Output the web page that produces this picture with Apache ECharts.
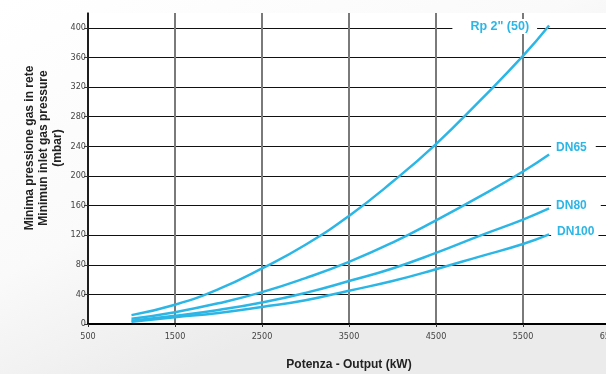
<!DOCTYPE html>
<html>
<head>
<meta charset="utf-8">
<script src="https://cdn.jsdelivr.net/npm/echarts@6/dist/echarts.min.js"></script>
<style>
html,body{margin:0;padding:0;}
#c{width:606px;height:374px;}
</style>
</head>
<body>
<div id="c"></div>
<script>
// Data
const outputKW = [1000, 1500, 2000, 2500, 3000, 3500, 4000, 4500, 5000, 5500, 5800];
const rp2 = [12, 26, 47, 75, 107, 146, 192, 243, 301, 362, 403];
const dn65 = [7, 16, 28, 43, 62, 84, 110, 140, 172, 206, 229];
const dn80 = [4.5, 11, 19, 29, 42, 58, 75, 96, 119, 141, 156];
const dn100 = [3, 9, 15, 23, 32, 45, 58, 74, 91, 108, 121];
const seriesNames = ['Rp 2" (50)', 'DN65', 'DN80', 'DN100'];
const xTickLabels = [500, 1500, 2500, 3500, 4500, 5500, 6500];
const yTickLabels = [0, 40, 80, 120, 160, 200, 240, 280, 320, 360, 400];
const xTitle = 'Potenza - Output (kW)';
const yTitle = 'Minima pressione gas in rete\nMinimun inlet gas pressure\n(mbar)';

const lineColor = '#2cb6e6';
const tickFont = "'Liberation Sans Narrow','Arial Narrow','DejaVu Sans Condensed',sans-serif";
const boldFont = "'Liberation Sans',Arial,sans-serif";

const labelStyles = [
  {position: 'left', distance: 12, padding: [1, 8, 1, 18], offset: [0, 1], size: 12.5},
  {position: 'right', distance: 2, padding: [1, 9, 1, 5], offset: [0, -7], size: 12},
  {position: 'right', distance: 2, padding: [1, 14, 1, 5], offset: [0, -3], size: 12},
  {position: 'right', distance: 2, padding: [1, 4, 1, 6], offset: [0, -3], size: 12}
];

function buildData(vals, idx) {
  return vals.map((v, i) => {
    const item = {value: [outputKW[i], v]};
    if (i === vals.length - 1) {
      const s = labelStyles[idx];
      item.label = {
        show: true,
        formatter: seriesNames[idx],
        position: s.position,
        distance: s.distance,
        offset: s.offset,
        padding: s.padding,
        backgroundColor: '#ffffff',
        color: lineColor,
        fontFamily: boldFont,
        fontWeight: 'bold',
        fontSize: s.size
      };
    }
    return item;
  });
}

const allVals = [rp2, dn65, dn80, dn100];

const chart = echarts.init(document.getElementById('c'), null, {renderer: 'canvas'});
chart.setOption({
  animation: false,
  backgroundColor: {
    type: 'linear', x: 0, y: 0, x2: 0.3, y2: 1,
    colorStops: [{offset: 0, color: '#ffffff'}, {offset: 0.6, color: '#fafafa'}, {offset: 1, color: '#ebebeb'}]
  },
  grid: {
    left: 88, right: -4, top: 13, bottom: 50,
    containLabel: false, outerBoundsMode: 'none',
    show: true, backgroundColor: '#ffffff', borderWidth: 0
  },
  xAxis: {
    type: 'value', min: 500, max: 6500, interval: 500,
    axisLine: {show: true, lineStyle: {color: '#000', width: 2}},
    axisTick: {show: true, length: 3, customValues: xTickLabels, lineStyle: {color: '#333'}},
    axisLabel: {
      customValues: xTickLabels, margin: 8, hideOverlap: false,
      color: '#444', fontSize: 9, fontFamily: tickFont,
      formatter: v => String(v)
    },
    splitLine: {show: true, lineStyle: {color: '#7a7a7a', width: 2}}
  },
  yAxis: {
    type: 'value', min: 0, max: 420, interval: 20,
    axisLine: {show: true, lineStyle: {color: '#000', width: 1.5}},
    axisTick: {show: true, length: 4, customValues: yTickLabels, lineStyle: {color: '#333'}},
    axisLabel: {
      customValues: yTickLabels, margin: 2,
      color: '#444', fontSize: 9, fontFamily: tickFont
    },
    splitLine: {show: true, lineStyle: {color: '#111', width: 1.2}}
  },
  graphic: [
    {
      type: 'text', x: 349, y: 365,
      style: {
        text: xTitle, font: "bold 12px 'Liberation Sans', Arial, sans-serif", fill: '#222',
        align: 'center', verticalAlign: 'middle'
      }
    },
    {
      type: 'text',
      x: 44, y: 148, rotation: Math.PI / 2,
      style: {
        text: yTitle, font: "bold 12px 'Liberation Sans', Arial, sans-serif", fill: '#222',
        align: 'center', verticalAlign: 'middle', lineHeight: 14
      }
    }
  ],
  series: allVals.map((vals, idx) => ({
    type: 'line',
    name: seriesNames[idx],
    data: buildData(vals, idx),
    smooth: true,
    showSymbol: true,
    symbol: 'circle',
    symbolSize: 0,
    lineStyle: {color: lineColor, width: 2.5},
    itemStyle: {color: lineColor},
    label: {show: false},
    z: 3
  }))
});
</script>
</body>
</html>
